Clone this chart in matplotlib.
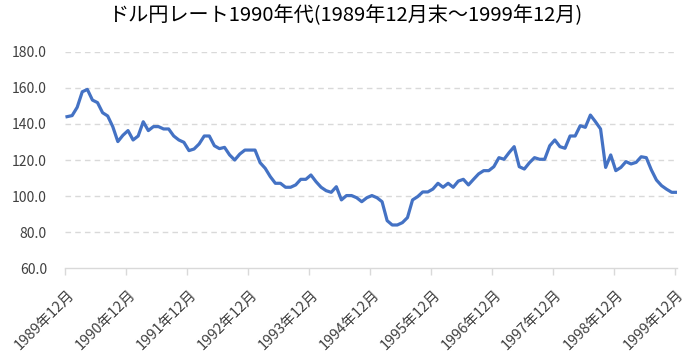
import numpy as np
import matplotlib.pyplot as plt
import matplotlib.transforms as mtrans

plt.rcParams['font.family'] = ['Noto Sans CJK JP', 'DejaVu Sans']

# 月末のドル円レート (1989年12月〜1999年12月)
rate_1989 = [144.0]
rate_1990 = [144.6, 149.2, 157.8, 159.1, 153.2, 151.8, 146.2, 144.4, 138.5, 130.2, 133.7, 136.3]
rate_1991 = [131.1, 133.3, 141.2, 136.3, 138.5, 138.5, 137.2, 137.2, 133.3, 131.1, 129.8, 125.2]
rate_1992 = [126.1, 128.9, 133.3, 133.3, 127.9, 126.3, 127.0, 122.8, 120.0, 123.3, 125.5, 125.5]
rate_1993 = [125.5, 118.5, 115.4, 110.8, 107.1, 107.1, 104.9, 104.9, 106.2, 109.3, 109.3, 111.7]
rate_1994 = [108.0, 104.9, 103.0, 102.1, 105.2, 97.9, 100.3, 100.3, 99.1, 96.9, 99.1, 100.3]
rate_1995 = [99.1, 96.9, 86.4, 84.0, 84.0, 85.3, 88.1, 97.9, 99.7, 102.3, 102.3, 103.9]
rate_1996 = [107.1, 104.9, 107.1, 104.9, 108.3, 109.3, 106.2, 109.3, 112.3, 114.1, 114.1, 116.3]
rate_1997 = [121.3, 120.4, 124.1, 127.4, 116.3, 115.0, 118.5, 121.3, 120.4, 120.4, 127.9, 131.1]
rate_1998 = [127.4, 126.5, 133.3, 133.3, 139.0, 138.1, 144.9, 141.2, 137.2, 115.9, 122.8, 114.1]
rate_1999 = [115.9, 119.1, 117.8, 118.7, 121.8, 121.3, 114.5, 108.9, 105.8, 103.8, 102.1, 102.1]

rates = (rate_1989 + rate_1990 + rate_1991 + rate_1992 + rate_1993 + rate_1994
         + rate_1995 + rate_1996 + rate_1997 + rate_1998 + rate_1999)
years = list(range(1989, 2000))
tick_labels = ['%d年12月' % y for y in years]

fig = plt.figure(figsize=(6.9, 3.51), dpi=100)
ax = fig.add_axes([0.0942, 0.2356, 0.8870, 0.6171])

x = np.arange(len(rates))
ax.plot(x, rates, color='#4472C4', linewidth=2.3, solid_joinstyle='round')

ax.set_ylim(60, 180)
ax.set_yticks(np.arange(60, 181, 20))
ax.set_yticklabels(['%.1f' % v for v in np.arange(60, 181, 20)])
ax.set_xlim(-0.4, 120.05)
ax.set_xticks(np.arange(0, 121, 12) - 0.4)
ax.set_xticklabels(tick_labels, rotation=45, ha='right', va='center', rotation_mode='anchor')

for v in range(80, 181, 20):
    ax.axhline(v, color='#d9d9d9', linewidth=1.0, linestyle=(0, (4, 3)), zorder=0)

for s in ['top', 'right', 'left']:
    ax.spines[s].set_visible(False)
ax.spines['bottom'].set_color('#d9d9d9')
ax.spines['bottom'].set_linewidth(1.0)

ax.tick_params(axis='y', length=0, pad=13, labelsize=10, labelcolor='#404040')
ax.tick_params(axis='x', length=5, width=1.0, color='#d9d9d9', pad=12,
               labelsize=10.5, labelcolor='#404040')
shift = mtrans.ScaledTranslation(7 / 100, 0, fig.dpi_scale_trans)
for lab in ax.get_xticklabels():
    lab.set_transform(lab.get_transform() + shift)

fig.text(0.5, 0.955, 'ドル円レート1990年代(1989年12月末～1999年12月)',
         ha='center', va='center', fontsize=14.5, color='#000000')

plt.savefig('out.png', dpi=100)
